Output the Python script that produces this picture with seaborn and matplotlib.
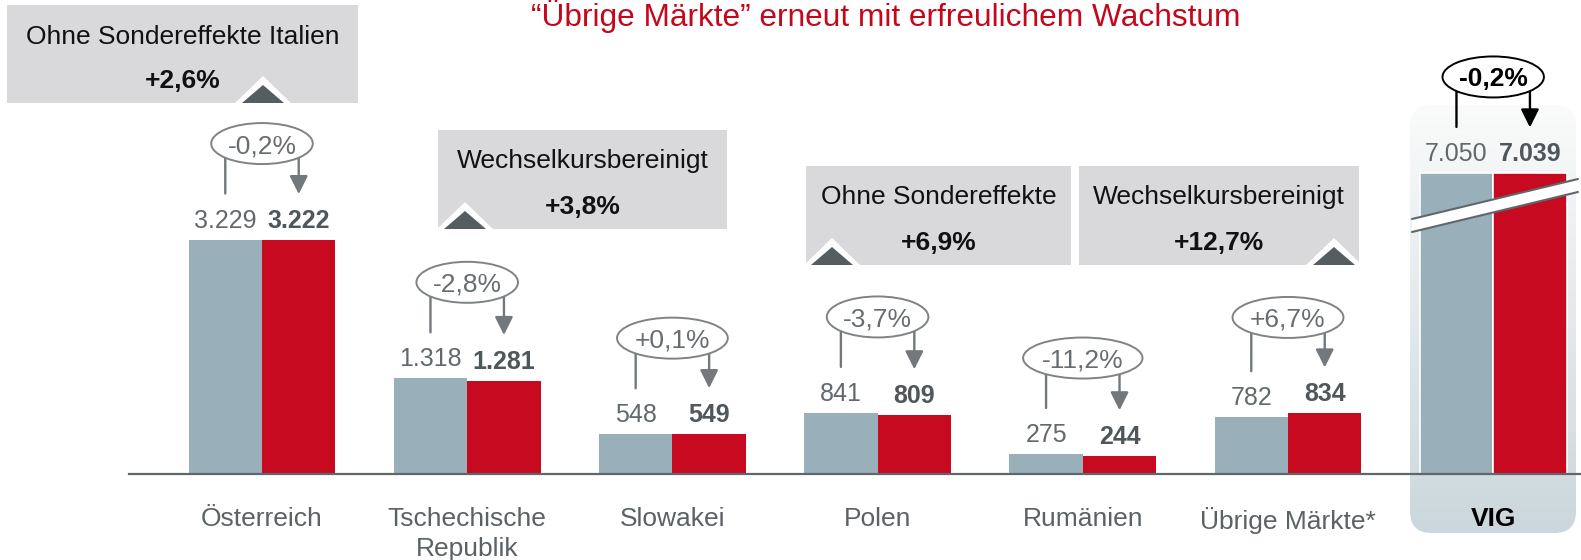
import numpy as np
import pandas as pd
import matplotlib
matplotlib.use("Agg")
import matplotlib.pyplot as plt
import seaborn as sns
from matplotlib.patches import Rectangle, Polygon, FancyBboxPatch, Ellipse
from matplotlib.lines import Line2D
from matplotlib.colors import LinearSegmentedColormap

# ---------------- data ----------------
regions = ["Österreich", "Tschechische\nRepublik", "Slowakei", "Polen",
           "Rumänien", "Übrige Märkte*", "VIG"]
series = ["Vorjahr", "Aktuell"]
values_prev = [3229, 1318, 548, 841, 275, 782, 7050]
values_curr = [3222, 1281, 549, 809, 244, 834, 7039]
labels_prev = ["3.229", "1.318", "548", "841", "275", "782", "7.050"]
labels_curr = ["3.222", "1.281", "549", "809", "244", "834", "7.039"]
changes = ["-0,2%", "-2,8%", "+0,1%", "-3,7%", "-11,2%", "+6,7%", "-0,2%"]

box_titles = ["Ohne Sondereffekte Italien", "Wechselkursbereinigt",
              "Ohne Sondereffekte", "Wechselkursbereinigt"]
box_values = ["+2,6%", "+3,8%", "+6,9%", "+12,7%"]
title = "\u201cÜbrige Märkte\u201d erneut mit erfreulichem Wachstum"

# ---------------- style ----------------
GREY_BAR = "#99AFB9"
RED_BAR = "#C70A1F"
VAL_GREY = "#62696C"
VAL_DARK = "#50575B"
LINE_GREY = "#72787B"
ELL_TXT = "#676D70"
CAT_GREY = "#5B6266"
AXIS_COL = "#5F676B"
BOX_COL = "#D9D9DB"
TRI_COL = "#565D61"
TITLE_RED = "#C4071B"

W, H, DPI = 1581, 560, 100
sns.set_theme(style="white")
plt.rcParams["font.family"] = ["Liberation Sans", "DejaVu Sans"]

fig = plt.figure(figsize=(W / DPI, H / DPI), dpi=DPI)
fig.patch.set_facecolor("white")


def fx(x):
    return x / W


def fy(y):
    return 1 - y / H


BASE = 474          # baseline (px from top)
AX_L = 129
X0, DX = 262, 205.2  # pixel centre of first group, group spacing
WIDTH = 0.716

# VIG background panel (gradient, rounded bottom)
PL, PT, PR, PB = 1410, 105, 1576, 533
ax_bg = fig.add_axes([fx(PL), fy(PB), (PR - PL) / W, (PB - PT) / H])
ax_bg.set_zorder(0)
ax_bg.axis("off")
cmap = LinearSegmentedColormap.from_list("panel", ["#CBD7DC", "#E3E9EC", "#FAFBFB"])
grad = np.linspace(0, 1, 256).reshape(-1, 1)
im = ax_bg.imshow(grad, aspect="auto", cmap=cmap, extent=[0, 1, 0, 1], origin="lower")
clip = FancyBboxPatch((0, 0), 1, 1, boxstyle="round,pad=0,rounding_size=0.13",
                      mutation_aspect=(PR - PL) / (PB - PT),
                      transform=ax_bg.transAxes, fc="none", ec="none")
ax_bg.add_patch(clip)
im.set_clip_path(clip)

# main axes
ax = fig.add_axes([fx(AX_L), fy(BASE), (W - AX_L) / W, BASE / H])
ax.set_zorder(1)
ax.patch.set_visible(False)

rows = []
for r, a, b in zip(regions, values_prev, values_curr):
    rows.append((r, series[0], a))
    rows.append((r, series[1], b))
df = pd.DataFrame(rows, columns=["Region", "Serie", "Wert"])
pal = {series[0]: GREY_BAR, series[1]: RED_BAR}

sns.barplot(data=df[df.Region != "VIG"], x="Region", y="Wert", hue="Serie",
            order=regions, hue_order=series, palette=pal, saturation=1,
            width=WIDTH, errorbar=None, legend=False, linewidth=0, ax=ax)

ax2 = ax.twinx()
ax2.set_zorder(2)
ax2.patch.set_visible(False)
sns.barplot(data=df[df.Region == "VIG"], x="Region", y="Wert", hue="Serie",
            order=regions, hue_order=series, palette=pal, saturation=1,
            width=WIDTH, errorbar=None, legend=False, edgecolor="white",
            linewidth=1.2, ax=ax2)

ax.set_xlim((AX_L - X0) / DX, (W - X0) / DX)
ax.set_ylim(0, BASE / 0.0726)          # main scale
ax2.set_ylim(0, 11100)                 # broken scale for the VIG total
for a in (ax, ax2):
    a.set_xlabel("")
    a.set_ylabel("")
    a.tick_params(axis="y", left=False, right=False, labelleft=False, labelright=False)
    for s in a.spines.values():
        s.set_visible(False)
ax2.spines["bottom"].set_visible(True)
ax2.spines["bottom"].set_color(AXIS_COL)
ax2.spines["bottom"].set_linewidth(1.6)

ax.set_xticks(range(len(regions)), labels=regions, linespacing=1.34,
              multialignment="center")
ax.tick_params(axis="x", length=0, pad=23.5, labelsize=19, labelcolor=CAT_GREY)

# ---------------- per-group annotations ----------------
fig.canvas.draw()
renderer = fig.canvas.get_renderer()
for t in ax.get_xticklabels():
    t.set_linespacing(1.34)
vig_lbl = ax.get_xticklabels()[-1]
vig_lbl.set_fontweight("bold")
vig_lbl.set_color("black")

off = WIDTH / 4
for i, r in enumerate(regions):
    total = r == "VIG"
    a = ax2 if total else ax
    gx, gy = a.transData.transform((i - off, values_prev[i]))
    rx, ry = a.transData.transform((i + off, values_curr[i]))
    cx = a.transData.transform((i, 0))[0]
    ax2.annotate(labels_prev[i], xy=(gx, gy + 12), xycoords="figure pixels",
                 ha="center", va="baseline", fontsize=18, color=VAL_GREY,
                 annotation_clip=False)
    ax2.annotate(labels_curr[i], xy=(rx, ry + 12), xycoords="figure pixels",
                 ha="center", va="baseline", fontsize=18, fontweight="bold",
                 color=VAL_DARK, annotation_clip=False)
    ey = max(gy, ry) + 96
    lc = "black" if total else LINE_GREY
    ax2.annotate("", xy=(gx, gy + 46), xytext=(gx, ey), xycoords="figure pixels",
                 arrowprops=dict(arrowstyle="-", color=lc, lw=1.7,
                                 shrinkA=0, shrinkB=0),
                 zorder=4, annotation_clip=False)
    ax2.annotate("", xy=(rx, ry + 46), xytext=(rx, ey), xycoords="figure pixels",
                 arrowprops=dict(arrowstyle="-|>,head_length=1.1,head_width=0.55",
                                 mutation_scale=10, color=lc, lw=1.7,
                                 shrinkA=0, shrinkB=0),
                 zorder=4, annotation_clip=False)
    txt = ax2.annotate(changes[i], xy=(cx, ey - 9.5), xycoords="figure pixels",
                       ha="center", va="baseline", fontsize=19,
                       fontweight="bold" if total else "normal",
                       color="black" if total else ELL_TXT,
                       zorder=6, annotation_clip=False)
    tw = txt.get_window_extent(renderer).width
    ew = tw * 1.414 + 4
    ax2.add_patch(Ellipse((cx / W, ey / H), ew / W, 41 / H,
                          transform=fig.transFigure, fc="white",
                          ec="black" if total else "#7E8386", lw=1.4,
                          zorder=5, clip_on=False))

# break marks on the VIG bars
band = [(1412, 219), (1578, 179), (1578, 192), (1412, 232)]
ax2.add_patch(Polygon([(fx(x), fy(y)) for x, y in band], closed=True,
                      transform=fig.transFigure, fc="white", ec="none",
                      zorder=6, clip_on=False))
for (x1, y1), (x2, y2) in [(band[0], band[1]), (band[3], band[2])]:
    ax2.add_line(Line2D([fx(x1), fx(x2)], [fy(y1), fy(y2)], transform=fig.transFigure,
                        color=AXIS_COL, lw=1.5, zorder=7, clip_on=False))

# ---------------- grey call-out boxes ----------------
boxes = [(7, 5, 358, 103, 263),
         (438, 130, 727, 229, 465),
         (806, 166, 1071, 265, 832),
         (1079, 166, 1359, 265, 1334)]
for (x0, y0, x1, y1, tx), t1, t2 in zip(boxes, box_titles, box_values):
    fig.add_artist(Rectangle((fx(x0), fy(y1)), (x1 - x0) / W, (y1 - y0) / H,
                             transform=fig.transFigure, fc=BOX_COL, ec="none",
                             zorder=3))
    fig.add_artist(Polygon([(fx(tx - 28), fy(y1)), (fx(tx + 28), fy(y1)),
                            (fx(tx), fy(y1 - 27))], closed=True,
                           transform=fig.transFigure, fc="white", ec="none",
                           zorder=4))
    fig.add_artist(Polygon([(fx(tx - 21), fy(y1)), (fx(tx + 21), fy(y1)),
                            (fx(tx), fy(y1 - 18))], closed=True,
                           transform=fig.transFigure, fc=TRI_COL, ec="none",
                           zorder=5))
    cxb = (x0 + x1) / 2
    fig.text(fx(cxb), fy(y0 + 38.5), t1, ha="center", va="baseline",
             fontsize=19, color="#111111", zorder=6)
    fig.text(fx(cxb), fy(y1 - 15.5), t2, ha="center", va="baseline",
             fontsize=19, fontweight="bold", color="#111111", zorder=6)

# title (kept fully inside the canvas)
fig.text(fx(886), fy(26), title, ha="center", va="baseline",
         fontsize=22.8, color=TITLE_RED, zorder=6)

fig.savefig("out.png", dpi=DPI, facecolor="white")
